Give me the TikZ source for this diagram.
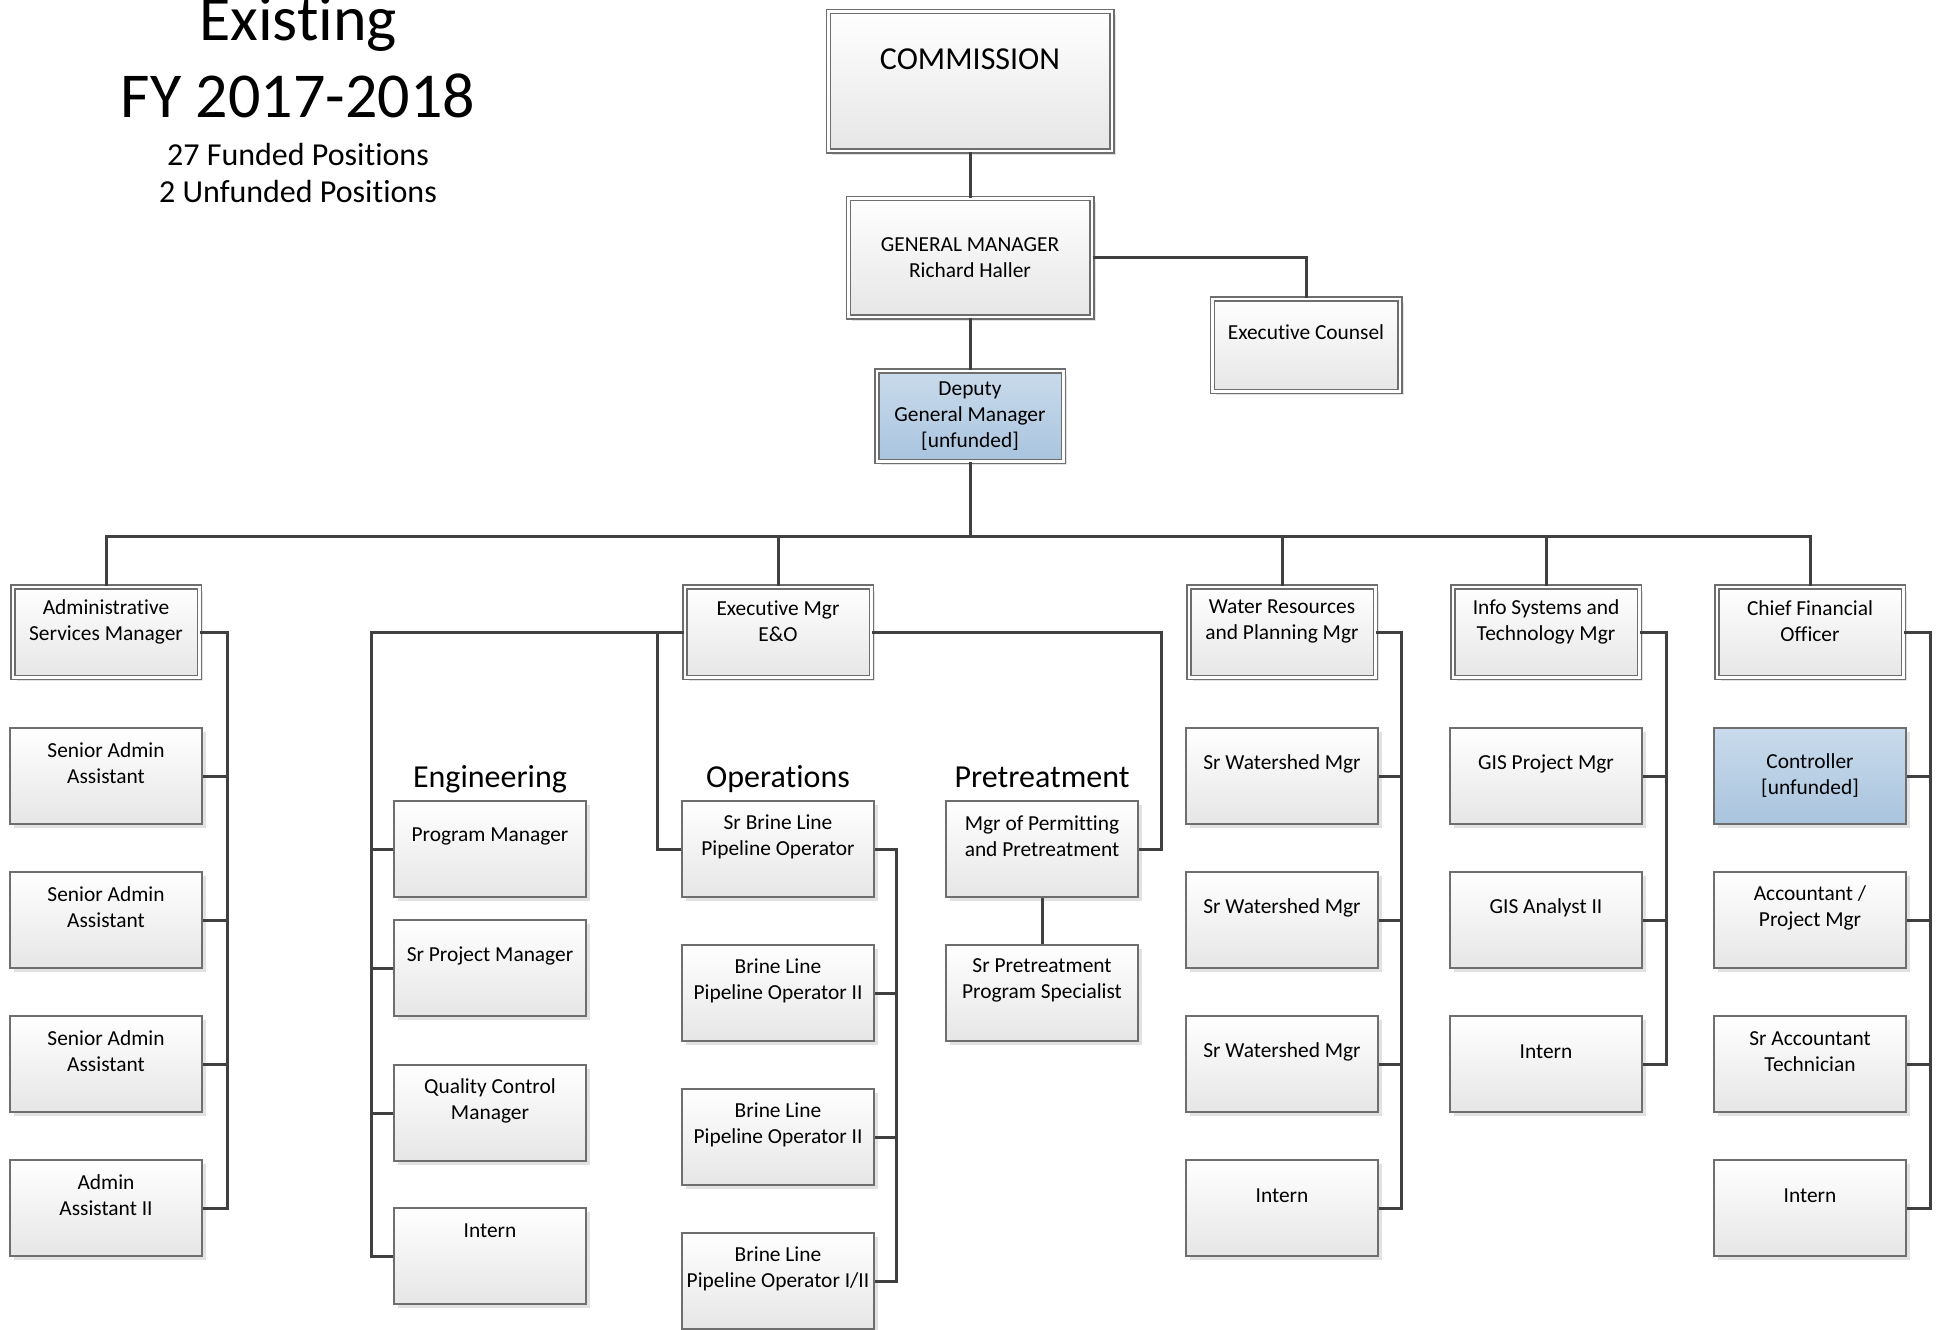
\documentclass[tikz,border=0pt]{standalone}
\usepackage{fontspec}
\setmainfont{Carlito}[Ligatures=NoCommon]
\usetikzlibrary{shadows}

\definecolor{boxline}{HTML}{6E6E6E}
\definecolor{boxbottom}{HTML}{E6E6E6}
\definecolor{bluetop}{HTML}{C9DBEC}
\definecolor{bluebottom}{HTML}{A9C4DE}
\definecolor{wiregray}{HTML}{404040}
\definecolor{shadegray}{HTML}{E2E2E2}

\tikzset{
	post/.style={draw=boxline, line width=0.75pt, top color=white, bottom color=boxbottom, minimum width=96pt, minimum height=48pt, inner sep=0pt,
		drop shadow={shadow xshift=2pt, shadow yshift=-2pt, fill=shadegray, opacity=1}},
	headpost/.style={post, double=white, double distance=1.25pt, minimum width=93.25pt, minimum height=45.25pt},
	unfunded/.style={top color=bluetop, bottom color=bluebottom},
	txt/.style={align=center, inner sep=0pt, font=\fontsize{10.7}{13}\selectfont, yshift=6.25pt},
	headtxt/.style={txt, yshift=-1pt},
	link/.style={draw=wiregray, line width=1.5pt},
	grouphead/.style={anchor=base, font=\fontsize{16}{19}\selectfont},
}

\begin{document}
\begin{tikzpicture}[x=0.5pt,y=0.5pt,yscale=-1,xscale=1]
	\useasboundingbox (0,0) rectangle (1941,1329);
	
	% Text Node
	\node [anchor=base, font=\fontsize{32}{38}\selectfont] (yr1) at (298,40) {Existing};
	% Text Node
	\node [anchor=base, font=\fontsize{32}{38}\selectfont] (yr2) at (298,117) {FY 2017-2018};
	% Text Node
	\node [anchor=base, font=\fontsize{16}{18.5}\selectfont] (cnt1) at (298,165) {27 Funded Positions};
	% Text Node
	\node [anchor=base, font=\fontsize{16}{18.5}\selectfont] (cnt2) at (298,202) {2 Unfunded Positions};
	
	%Shape: Rectangle
	\node [headpost, minimum width=141.75pt, minimum height=69.75pt, label={[txt, yshift=4.55pt, font=\fontsize{16}{19}\selectfont]center:COMMISSION}] (comm) at (970,81) {};
	%Shape: Rectangle
	\node [headpost, minimum width=121.75pt, minimum height=59.25pt, label={[txt, yshift=-6.25pt]center:{GENERAL MANAGER\\Richard Haller}}] (gm) at (970,257.5) {};
	%Shape: Rectangle
	\node [headpost, minimum width=93.75pt, minimum height=46.25pt, label={[txt]center:Executive Counsel}] (counsel) at (1306,345) {};
	%Shape: Rectangle
	\node [headpost, unfunded, label={[txt, yshift=-6.25pt]center:{Deputy\\General Manager\\{[unfunded]}}}] (deputy) at (970,416) {};
	
	%Shape: Rectangle
	\node [headpost, label={[headtxt]center:{Administrative\\Services Manager}}] (admin) at (106,632) {};
	%Shape: Rectangle
	\node [headpost, label={[headtxt]center:{Executive Mgr\\E\&O}}] (exec) at (778,632) {};
	%Shape: Rectangle
	\node [headpost, label={[headtxt]center:{Water Resources\\and Planning Mgr}}] (water) at (1282,632) {};
	%Shape: Rectangle
	\node [headpost, label={[headtxt]center:{Info Systems and\\Technology Mgr}}] (info) at (1546,632) {};
	%Shape: Rectangle
	\node [headpost, label={[headtxt]center:{Chief Financial\\Officer}}] (cfo) at (1810,632) {};
	
	% Text Node
	\node [grouphead] (engtitle) at (490,787) {Engineering};
	% Text Node
	\node [grouphead] (opstitle) at (778,787) {Operations};
	% Text Node
	\node [grouphead] (pretitle) at (1042,787) {Pretreatment};
	
	%Shape: Rectangle
	\node [post, label={[txt]center:{Senior Admin\\Assistant}}] (adm1) at (106,776) {};
	\node [post, label={[txt]center:{Senior Admin\\Assistant}}] (adm2) at (106,920) {};
	\node [post, label={[txt]center:{Senior Admin\\Assistant}}] (adm3) at (106,1064) {};
	\node [post, label={[txt]center:{Admin\\Assistant II}}] (adm4) at (106,1208) {};
	
	%Shape: Rectangle
	\node [post, label={[txt]center:Program Manager}] (eng1) at (490,849) {};
	\node [post, label={[txt]center:Sr Project Manager}] (eng2) at (490,968) {};
	\node [post, label={[txt]center:{Quality Control\\Manager}}] (eng3) at (490,1113) {};
	\node [post, label={[txt, yshift=6.25pt]center:Intern}] (eng4) at (490,1256) {};
	
	%Shape: Rectangle
	\node [post, label={[txt]center:{Sr Brine Line\\Pipeline Operator}}] (ops1) at (778,849) {};
	\node [post, label={[txt]center:{Brine Line\\Pipeline Operator II}}] (ops2) at (778,993) {};
	\node [post, label={[txt]center:{Brine Line\\Pipeline Operator II}}] (ops3) at (778,1137) {};
	\node [post, label={[txt]center:{Brine Line\\Pipeline Operator I/II}}] (ops4) at (778,1281) {};
	
	%Shape: Rectangle
	\node [post, label={[txt]center:{Mgr of Permitting\\and Pretreatment}}] (pre1) at (1042,849) {};
	\node [post, label={[txt]center:{Sr Pretreatment\\Program Specialist}}] (pre2) at (1042,993) {};
	
	%Shape: Rectangle
	\node [post, label={[txt]center:Sr Watershed Mgr}] (wat1) at (1282,776) {};
	\node [post, label={[txt]center:Sr Watershed Mgr}] (wat2) at (1282,920) {};
	\node [post, label={[txt]center:Sr Watershed Mgr}] (wat3) at (1282,1064) {};
	\node [post, label={[txt]center:Intern}] (wat4) at (1282,1208) {};
	
	%Shape: Rectangle
	\node [post, label={[txt]center:GIS Project Mgr}] (ist1) at (1546,776) {};
	\node [post, label={[txt]center:GIS Analyst II}] (ist2) at (1546,920) {};
	\node [post, label={[txt]center:Intern}] (ist3) at (1546,1064) {};
	
	%Shape: Rectangle
	\node [post, unfunded, label={[txt, yshift=-6.25pt]center:{Controller\\{[unfunded]}}}] (fin1) at (1810,776) {};
	\node [post, label={[txt]center:{Accountant /\\Project Mgr}}] (fin2) at (1810,920) {};
	\node [post, label={[txt]center:{Sr Accountant\\Technician}}] (fin3) at (1810,1064) {};
	\node [post, label={[txt]center:Intern}] (fin4) at (1810,1208) {};
	
	% bus points
	\coordinate (bus) at (0,536);
	\coordinate (admbus) at (227,632);
	\coordinate (engbus) at (371,632);
	\coordinate (opsjoin) at (657,632);
	\coordinate (prebus) at (1161,632);
	\coordinate (opsbus) at (896,849);
	\coordinate (watbus) at (1401,632);
	\coordinate (istbus) at (1666,632);
	\coordinate (finbus) at (1930,632);
	
	%Straight Lines
	\draw [link] (comm.south) -- (gm.north);
	\draw [link] (gm.south) -- (deputy.north);
	\draw [link] (gm.east) -| (counsel.north);
	\draw [link] (deputy.south) -- (deputy.south |- bus);
	\draw [link] (admin.north) -- (admin.north |- bus) -- (cfo.north |- bus) -- (cfo.north);
	\draw [link] (exec.north) -- (exec.north |- bus);
	\draw [link] (water.north) -- (water.north |- bus);
	\draw [link] (info.north) -- (info.north |- bus);
	
	%Straight Lines
	\draw [link] (admin.east) -- (admbus) |- (adm4.east);
	\draw [link] (adm1.east) -- (adm1.east -| admbus);
	\draw [link] (adm2.east) -- (adm2.east -| admbus);
	\draw [link] (adm3.east) -- (adm3.east -| admbus);
	
	%Straight Lines
	\draw [link] (exec.west) -- (engbus) |- (eng4.west);
	\draw [link] (eng1.west) -- (eng1.west -| engbus);
	\draw [link] (eng2.west) -- (eng2.west -| engbus);
	\draw [link] (eng3.west) -- (eng3.west -| engbus);
	\draw [link] (opsjoin) |- (ops1.west);
	\draw [link] (exec.east) -- (prebus) |- (pre1.east);
	\draw [link] (pre1.south) -- (pre2.north);
	
	%Straight Lines
	\draw [link] (ops1.east) -- (opsbus) |- (ops4.east);
	\draw [link] (ops2.east) -- (ops2.east -| opsbus);
	\draw [link] (ops3.east) -- (ops3.east -| opsbus);
	
	%Straight Lines
	\draw [link] (water.east) -- (watbus) |- (wat4.east);
	\draw [link] (wat1.east) -- (wat1.east -| watbus);
	\draw [link] (wat2.east) -- (wat2.east -| watbus);
	\draw [link] (wat3.east) -- (wat3.east -| watbus);
	
	%Straight Lines
	\draw [link] (info.east) -- (istbus) |- (ist3.east);
	\draw [link] (ist1.east) -- (ist1.east -| istbus);
	\draw [link] (ist2.east) -- (ist2.east -| istbus);
	
	%Straight Lines
	\draw [link] (cfo.east) -- (finbus) |- (fin4.east);
	\draw [link] (fin1.east) -- (fin1.east -| finbus);
	\draw [link] (fin2.east) -- (fin2.east -| finbus);
	\draw [link] (fin3.east) -- (fin3.east -| finbus);
\end{tikzpicture}
\end{document}
